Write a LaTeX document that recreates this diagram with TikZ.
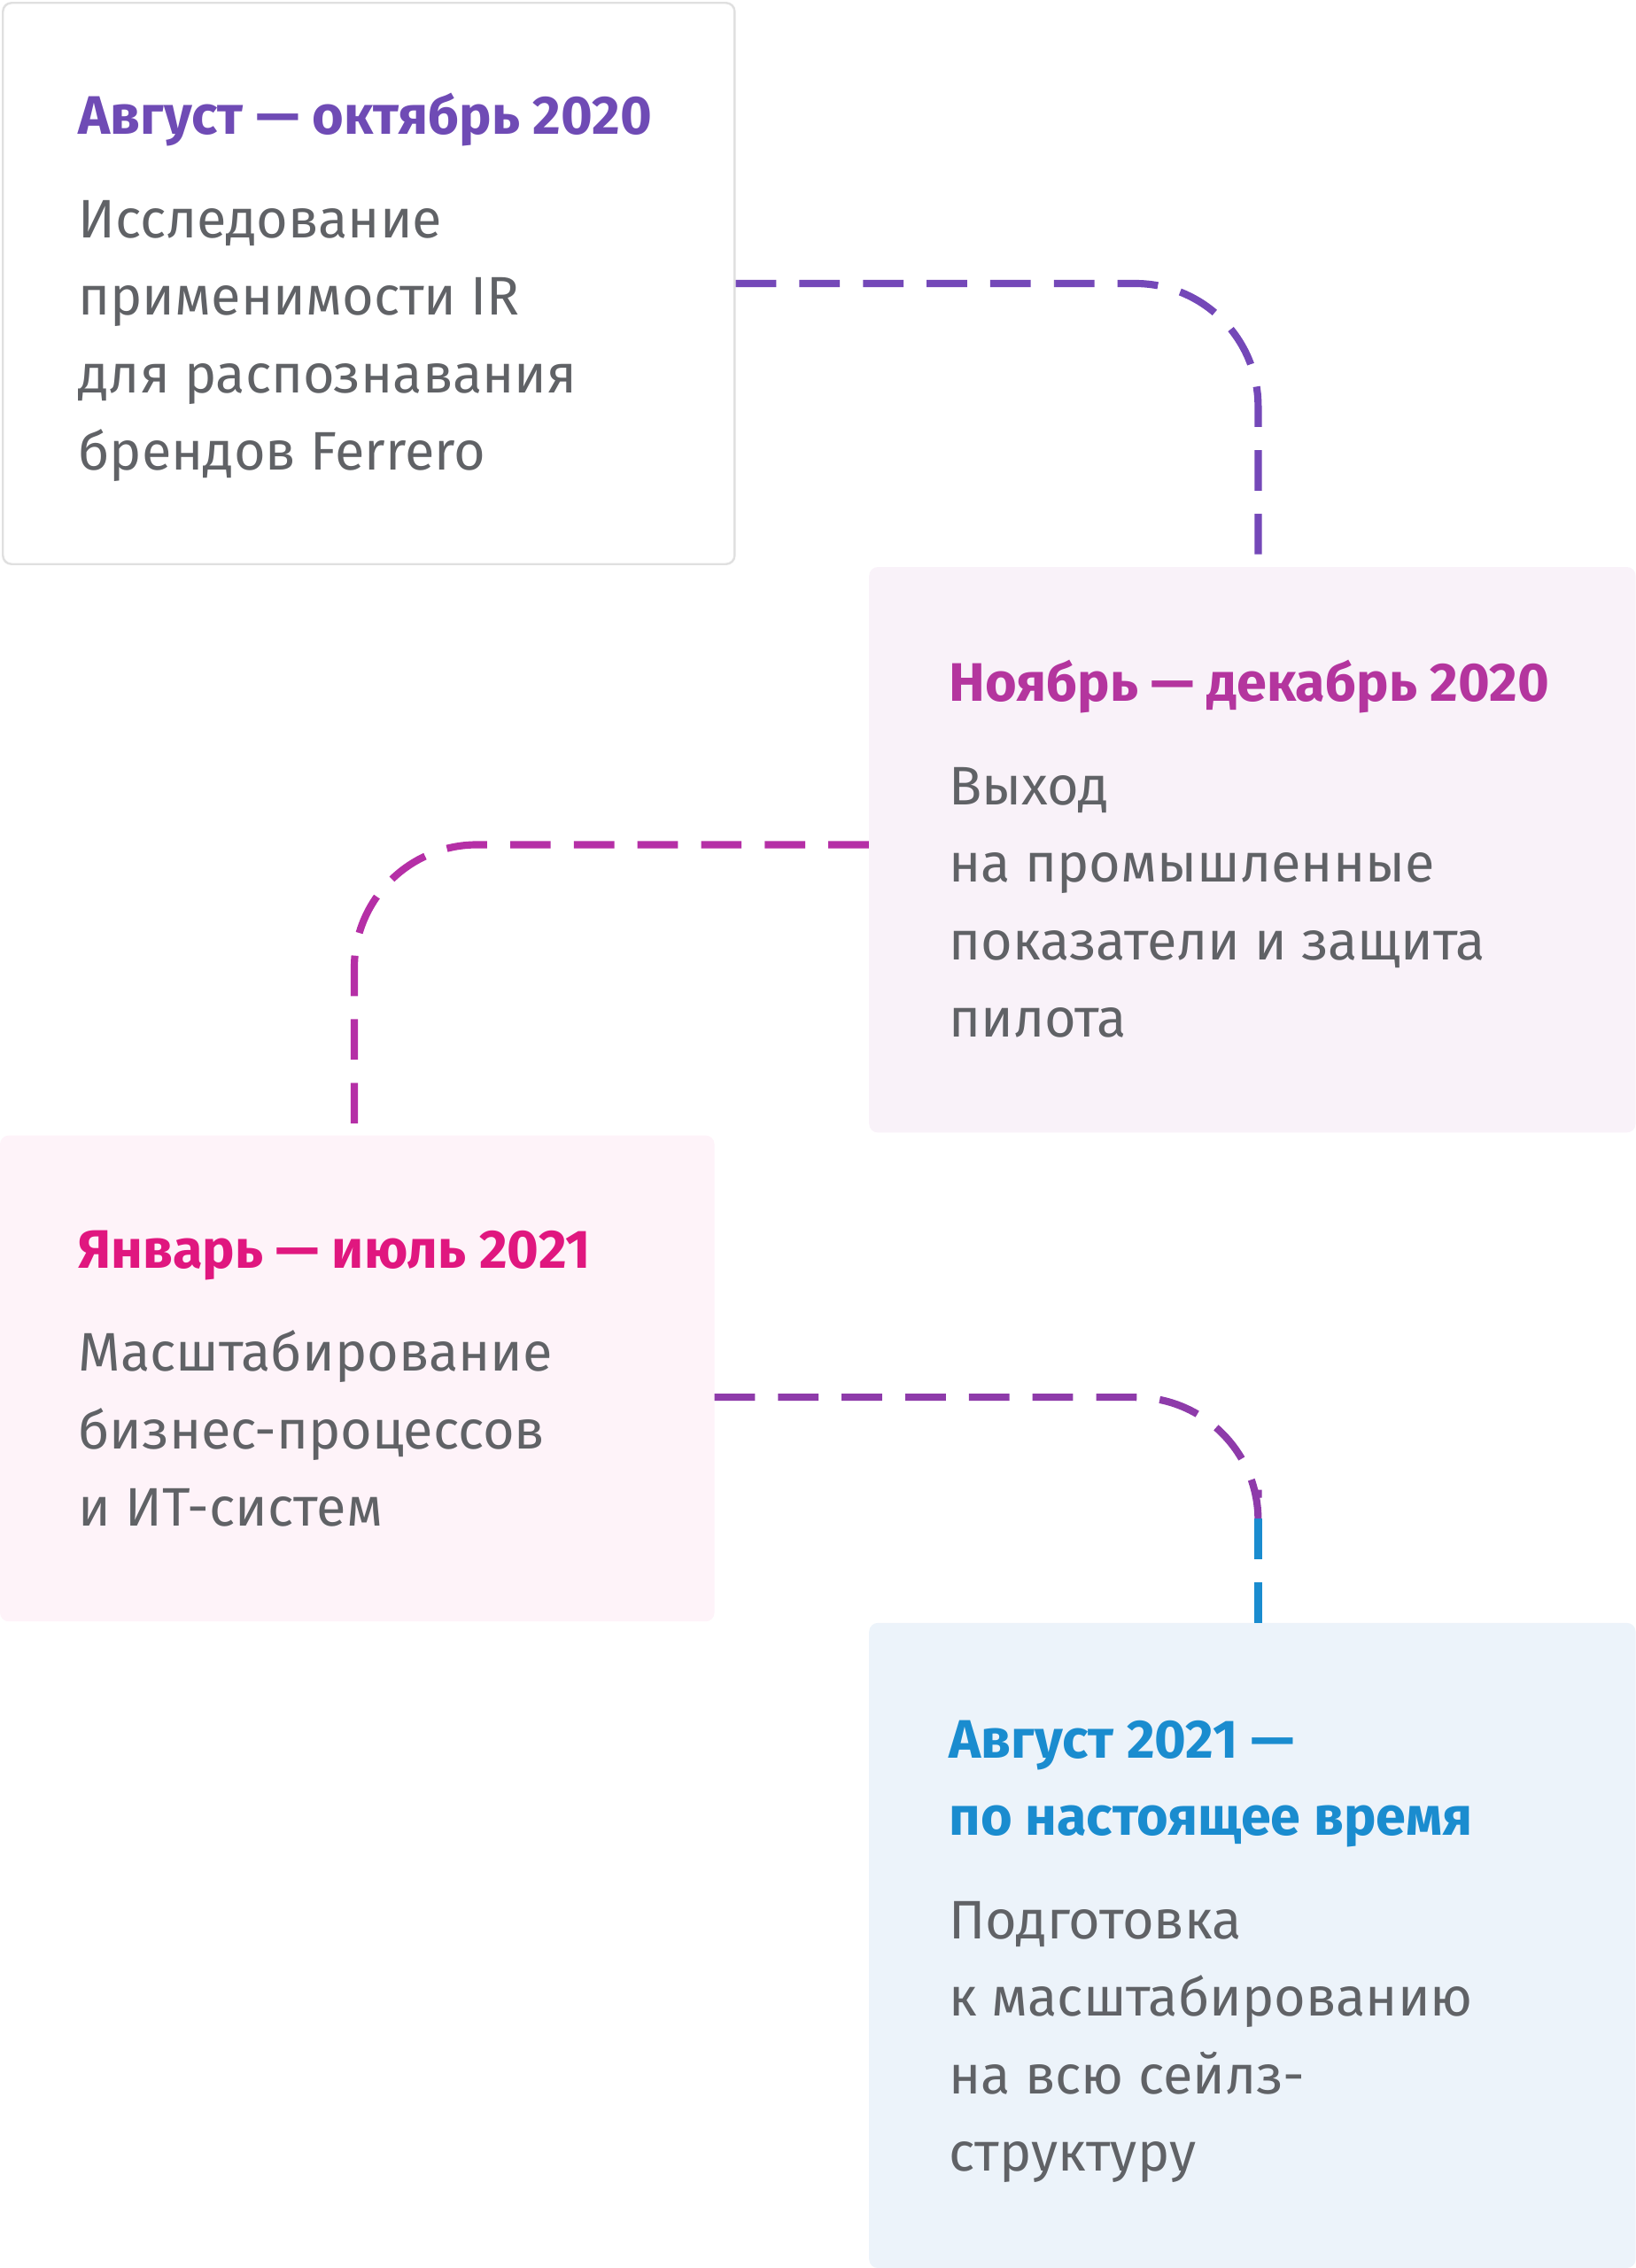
\documentclass[tikz,border=0pt]{standalone}
\usepackage{fontspec}
\setmainfont{Fira Sans}
\definecolor{tA}{HTML}{6F4BB5}
\definecolor{tB}{HTML}{B4359E}
\definecolor{tC}{HTML}{E0177F}
\definecolor{tD}{HTML}{1A8CCF}
\definecolor{body}{HTML}{606266}
\definecolor{fA}{HTML}{FFFFFF}
\definecolor{fB}{HTML}{F9F2F9}
\definecolor{fC}{HTML}{FEF3F9}
\definecolor{fD}{HTML}{ECF3FA}
\definecolor{cA}{HTML}{7448B8}
\definecolor{cB}{HTML}{B52FA6}
\definecolor{cC}{HTML}{8E3BAA}
\begin{document}
\begin{tikzpicture}[x=1pt,y=-1pt,
  box/.style={draw=none,rounded corners=6pt,inner sep=0pt},
  ttl/.style={anchor=base west,align=left,inner sep=0pt,font=\fontsize{37.5}{53.5}\selectfont\bfseries},
  txt/.style={anchor=base west,align=left,inner sep=0pt,text=body,font=\fontsize{37.5}{53.5}\selectfont},
  con/.style={line width=5pt,dash pattern=on 28pt off 16pt}]
\useasboundingbox (0,0) rectangle (1131,1568);
\node[box,fill=fA,draw={black!12},line width=1.5pt,minimum width=506pt,minimum height=388pt] (b1) at (255,196) {};
\node[box,fill=fB,minimum width=530pt,minimum height=391pt] (b2) at (866,587.5) {};
\node[box,fill=fC,minimum width=494pt,minimum height=336pt] (b3) at (247,953) {};
\node[box,fill=fD,minimum width=530pt,minimum height=446pt] (b4) at (866,1345) {};
\node[ttl,text=tA] (t1) at (54,93) {Август — октябрь 2020};
\node[txt] (x1) at (54,325) {Исследование\\применимости IR\\для распознавания\\брендов Ferrero};
\node[ttl,text=tB] (t2) at (656,485) {Ноябрь — декабрь 2020};
\node[txt] (x2) at (656,717) {Выход\\на промышленные\\показатели и защита\\пилота};
\node[ttl,text=tC] (t3) at (54,877) {Январь — июль 2021};
\node[txt] (x3) at (54,1055) {Масштабирование\\бизнес-процессов\\и ИТ-систем};
\node[ttl,text=tD] (t4) at (656,1269) {Август 2021 —\\по настоящее время};
\node[txt] (x4) at (656,1501) {Подготовка\\к масштабированию\\на всю сейлз-\\структуру};
\coordinate (c1) at (870,196);
\coordinate (c3) at (870,966);
\draw[con,cA,rounded corners=85pt] (b1.east) -- (c1) -- (c1 |- b2.north);
\draw[con,cB,rounded corners=85pt] (b2.west |- 0,584) -- (245,584) -- (245,778);
\draw[con,cC,rounded corners=85pt] (494,966) -- (c3) -- (870,1030);
\draw[con,tD] (870,1050) -- (c3 |- b4.north);
\end{tikzpicture}
\end{document}
